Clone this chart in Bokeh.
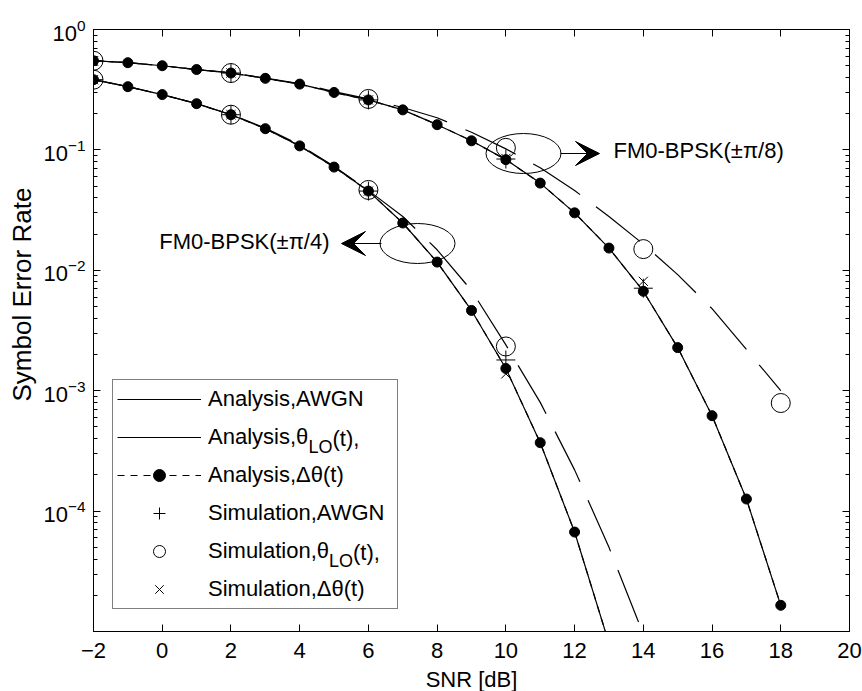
import math
from bokeh.plotting import figure
from bokeh.models import (FixedTicker, LinearAxis, LogAxis, Legend, LegendItem, Label,
                          Arrow, VeeHead, CustomJSTickFormatter, Title)
from bokeh.embed import file_html
from bokeh.resources import INLINE

# ---------------- data ----------------
# FM0-BPSK(+-pi/8)
snr_pi8 = [-2, -1, 0, 1, 2, 3, 4, 5, 6, 7, 8, 9, 10, 11, 12, 13, 14, 15, 16, 17, 18]
ser_awgn_pi8 = [0.55, 0.53, 0.50, 0.465, 0.435, 0.393, 0.352, 0.30, 0.26, 0.215, 0.162,
                0.119, 0.083, 0.053, 0.030, 0.0153, 0.0067, 0.00228, 6.2e-4, 1.26e-4, 1.65e-5]
ser_dtheta_pi8 = [0.55, 0.53, 0.50, 0.465, 0.435, 0.393, 0.352, 0.30, 0.26, 0.215, 0.162,
                  0.119, 0.083, 0.053, 0.030, 0.0153, 0.0067, 0.00228, 6.2e-4, 1.26e-4, 1.65e-5]
ser_lo_pi8 = [0.55, 0.53, 0.50, 0.465, 0.437, 0.395, 0.356, 0.305, 0.265, 0.225, 0.185,
              0.14, 0.102, 0.071, 0.046, 0.028, 0.0165, 0.0092, 0.0048, 0.0022, 0.001]

# FM0-BPSK(+-pi/4)
snr_pi4 = [-2, -1, 0, 1, 2, 3, 4, 5, 6, 7, 8, 9, 10, 11, 12, 13]
ser_awgn_pi4 = [0.383, 0.335, 0.288, 0.242, 0.196, 0.15, 0.108, 0.072, 0.0455, 0.0247,
                0.0117, 0.00464, 0.00153, 3.7e-4, 6.7e-5, 8e-6]
ser_dtheta_pi4 = [0.383, 0.335, 0.288, 0.242, 0.196, 0.15, 0.108, 0.072, 0.0455, 0.0247,
                  0.0117, 0.00464, 0.00153, 3.7e-4, 6.7e-5, 8e-6]
snr_lo_pi4 = [-2, -1, 0, 1, 2, 3, 4, 5, 6, 7, 8, 9, 10, 11, 12, 13, 14]
ser_lo_pi4 = [0.383, 0.335, 0.288, 0.242, 0.197, 0.152, 0.11, 0.073, 0.046, 0.028,
              0.0148, 0.0068, 0.0024, 8.0e-4, 2.2e-4, 5.0e-5, 9.5e-6]

# simulations
sim_snr_pi8 = [-2, 2, 6, 10, 14]
sim_awgn_pi8 = [0.55, 0.435, 0.26, 0.084, 0.0071]
sim_dtheta_pi8 = [0.55, 0.435, 0.26, 0.085, 0.0081]
sim_lo_snr_pi8 = [-2, 2, 6, 10, 14, 18]
sim_lo_pi8 = [0.55, 0.435, 0.265, 0.104, 0.015, 7.9e-4]

sim_snr_pi4 = [-2, 2, 6, 10]
sim_awgn_pi4 = [0.383, 0.196, 0.0455, 0.0018]
sim_lo_pi4 = [0.383, 0.196, 0.0465, 0.00233]
sim_dtheta_pi4 = [0.383, 0.196, 0.0455, 0.00138]

x_ticks = [-2, 0, 2, 4, 6, 8, 10, 12, 14, 16, 18, 20]
y_ticks = [1e-4, 1e-3, 1e-2, 1e-1, 1]
y_minor = [m * 10.0 ** e for e in range(-5, 0) for m in range(2, 10)]

legend_labels = ["Analysis,AWGN", "Analysis,\u03b8", "Analysis,\u0394\u03b8(t)",
                 "Simulation,AWGN", "Simulation,\u03b8", "Simulation,\u0394\u03b8(t)"]

# ---------------- figure ----------------
FONT = "Liberation Sans"
FS = "22px"

p = figure(frame_width=756, frame_height=602, x_range=(-2, 20), y_range=(1e-5, 1),
           y_axis_type="log", output_backend="svg", toolbar_location=None,
           min_border_left=92, min_border_right=14, min_border_top=29, min_border_bottom=60)
p.grid.visible = False
p.outline_line_color = "black"
p.outline_line_width = 1
p.background_fill_color = "white"
p.border_fill_color = "white"


def style_axis(ax):
    ax.axis_line_color = "black"
    ax.axis_line_width = 1
    ax.major_tick_line_color = "black"
    ax.minor_tick_line_color = "black"
    ax.major_tick_in = 7
    ax.major_tick_out = 0
    ax.minor_tick_in = 4
    ax.minor_tick_out = 0
    ax.major_label_text_font = FONT
    ax.major_label_text_font_size = FS
    ax.major_label_text_color = "black"


p.xaxis.ticker = FixedTicker(ticks=x_ticks, minor_ticks=[])
p.yaxis.ticker = FixedTicker(ticks=y_ticks, minor_ticks=y_minor)
for ax in p.xaxis + p.yaxis:
    style_axis(ax)
p.xaxis.major_label_standoff = 11
p.yaxis.major_label_standoff = 8

p.xaxis.axis_label = "SNR [dB]"
p.xaxis.axis_label_standoff = 6
p.xaxis.axis_label_text_font = FONT
p.xaxis.axis_label_text_font_size = FS
p.xaxis.axis_label_text_font_style = "normal"
p.xaxis.axis_label_text_color = "black"

top_axis = LinearAxis(ticker=FixedTicker(ticks=x_ticks, minor_ticks=[]),
                      formatter=CustomJSTickFormatter(code="return '';"))
style_axis(top_axis)
top_axis.major_label_text_font_size = "0px"
top_axis.major_label_standoff = 0
p.add_layout(top_axis, "above")

right_axis = LogAxis(ticker=FixedTicker(ticks=y_ticks, minor_ticks=y_minor),
                     formatter=CustomJSTickFormatter(code="return '';"))
style_axis(right_axis)
right_axis.major_label_text_font_size = "0px"
right_axis.major_label_standoff = 0
p.add_layout(right_axis, "right")

# y-axis title, placed higher than the frame centre as in the reference
p.add_layout(Title(text="Symbol Error Rate", align="left", offset=230, standoff=8,
                   text_font=FONT, text_font_size="26px", text_font_style="normal",
                   text_color="black"), "left")

LW = 1.2
r_awgn8 = p.line(snr_pi8, ser_awgn_pi8, line_color="black", line_width=LW)
r_awgn4 = p.line(snr_pi4, ser_awgn_pi4, line_color="black", line_width=LW)
r_lo8 = p.line(snr_pi8, ser_lo_pi8, line_color="black", line_width=LW, line_dash="56 20")
r_lo4 = p.line(snr_lo_pi4, ser_lo_pi4, line_color="black", line_width=LW, line_dash="56 20")
r_dt8 = p.line(snr_pi8, ser_dtheta_pi8, line_color="black", line_width=LW, line_dash="7 6")
r_dt4 = p.line(snr_pi4, ser_dtheta_pi4, line_color="black", line_width=LW, line_dash="7 6")
r_dot8 = p.scatter(snr_pi8, ser_dtheta_pi8, marker="circle", size=10,
                   fill_color="black", line_color="black")
r_dot4 = p.scatter(snr_pi4, ser_dtheta_pi4, marker="circle", size=10,
                   fill_color="black", line_color="black")

r_plus8 = p.scatter(sim_snr_pi8, sim_awgn_pi8, marker="cross", size=19, line_color="black", line_width=1)
r_plus4 = p.scatter(sim_snr_pi4, sim_awgn_pi4, marker="cross", size=19, line_color="black", line_width=1)
r_circ8 = p.scatter(sim_lo_snr_pi8, sim_lo_pi8, marker="circle", size=19, fill_color=None,
                    line_color="black", line_width=1)
r_circ4 = p.scatter(sim_snr_pi4, sim_lo_pi4, marker="circle", size=19, fill_color=None,
                    line_color="black", line_width=1)
r_x8 = p.scatter(sim_snr_pi8, sim_dtheta_pi8, marker="x", size=13, line_color="black", line_width=1)
r_x4 = p.scatter(sim_snr_pi4, sim_dtheta_pi4, marker="x", size=13, line_color="black", line_width=1)

# legend-only key for the theta_LO analysis entry (drawn solid in the reference legend);
# a single NaN point draws nothing in the plot area
r_lo_key = p.line(x=[float("nan")], y=[float("nan")], line_color="black", line_width=LW)

legend = Legend(items=[
    LegendItem(label=legend_labels[0], renderers=[r_awgn8]),
    LegendItem(label=legend_labels[1], renderers=[r_lo_key]),
    LegendItem(label=legend_labels[2], renderers=[r_dt8, r_dot8]),
    LegendItem(label=legend_labels[3], renderers=[r_plus8]),
    LegendItem(label=legend_labels[4], renderers=[r_circ8]),
    LegendItem(label=legend_labels[5], renderers=[r_x8]),
], location=(19, 22), padding=4, spacing=8, margin=0, glyph_width=84, glyph_height=30,
    label_height=30, label_width=185, label_standoff=7,
    label_text_font=FONT, label_text_font_size=FS, label_text_color="black",
    border_line_color="black", border_line_width=1, background_fill_alpha=0)
p.add_layout(legend)


# ---------------- annotations (canvas-pixel -> data helpers) ----------------
def px_x(px):
    return -2 + (px - 92) * 22 / 756


def px_y(py):
    return 10 ** (-(py - 29) * 5 / 602)


def add_label(px, py, text, size=FS, align="left"):
    p.add_layout(Label(x=px_x(px), y=px_y(py), text=text, text_font=FONT, text_font_size=size,
                       text_color="black", text_align=align, text_baseline="middle"))


# subscripts / tails of the legend entries (legend text now starts 4 px further right)
add_label(307, 446, "LO", size="18px")
add_label(331, 438, "(t),")
add_label(327.5, 560, "LO", size="18px")
add_label(351.5, 552, "(t),")

# ellipses, arrows, curve-family labels
p.ellipse(x=[px_x(522), px_x(416)], y=[px_y(153), px_y(243)], width=75, height=40,
          width_units="screen", height_units="screen", fill_color=None,
          line_color="black", line_width=1)
p.add_layout(Arrow(x_start=px_x(559), y_start=px_y(153), x_end=px_x(598), y_end=px_y(153),
                   end=VeeHead(size=24, fill_color="black", line_color="black"),
                   line_color="black", line_width=1))
p.add_layout(Arrow(x_start=px_x(380), y_start=px_y(243), x_end=px_x(340), y_end=px_y(243),
                   end=VeeHead(size=24, fill_color="black", line_color="black"),
                   line_color="black", line_width=1))
add_label(612, 150, "FM0-BPSK(\u00b1\u03c0/8)")
add_label(328, 241, "FM0-BPSK(\u00b1\u03c0/4)", align="right")

open("out.html", "w").write(file_html(p, INLINE))
